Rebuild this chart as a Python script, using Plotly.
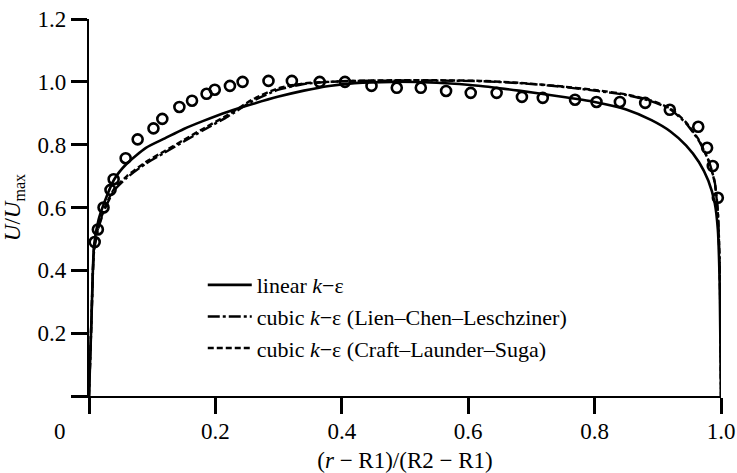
import plotly.graph_objects as go

# Normalised radial position across the gap
x_sim = [0, 0.004, 0.008, 0.015, 0.025, 0.04, 0.06, 0.09, 0.12, 0.15, 0.18, 0.22,
         0.26, 0.30, 0.34, 0.38, 0.42, 0.48, 0.55, 0.62, 0.68, 0.74, 0.80, 0.85,
         0.89, 0.92, 0.945, 0.965, 0.98, 0.99, 0.995, 0.998, 1.0]

# Velocity profiles U/Umax for the three turbulence models
u_linear = [0, 0.25, 0.48, 0.56, 0.62, 0.69, 0.74, 0.79, 0.82, 0.85, 0.875, 0.905,
            0.93, 0.953, 0.972, 0.987, 0.996, 1.0, 0.997, 0.987, 0.972, 0.955, 0.936,
            0.912, 0.878, 0.842, 0.797, 0.745, 0.685, 0.615, 0.53, 0.35, 0]
u_lcl = [0, 0.25, 0.46, 0.535, 0.595, 0.655, 0.695, 0.74, 0.775, 0.81, 0.845, 0.89,
         0.94, 0.975, 0.993, 1.0, 1.003, 1.004, 1.004, 1.002, 0.996, 0.986, 0.972,
         0.958, 0.938, 0.912, 0.867, 0.812, 0.752, 0.682, 0.59, 0.41, 0]
u_cls = [0, 0.25, 0.47, 0.54, 0.60, 0.66, 0.70, 0.745, 0.78, 0.815, 0.85, 0.895,
         0.945, 0.98, 0.995, 1.0, 1.003, 1.005, 1.005, 1.003, 0.997, 0.987, 0.974,
         0.96, 0.94, 0.915, 0.87, 0.815, 0.75, 0.68, 0.58, 0.40, 0]

# Measured profile
x_exp = [0.009, 0.014, 0.023, 0.034, 0.039, 0.058, 0.077, 0.102, 0.116, 0.143,
         0.163, 0.186, 0.199, 0.223, 0.243, 0.284, 0.321, 0.365, 0.405, 0.447,
         0.487, 0.525, 0.565, 0.604, 0.645, 0.685, 0.718, 0.769, 0.803, 0.840,
         0.880, 0.919, 0.964, 0.978, 0.987, 0.995]
u_exp = [0.49, 0.53, 0.60, 0.656, 0.69, 0.757, 0.817, 0.852, 0.882, 0.920,
         0.940, 0.962, 0.975, 0.987, 1.0, 1.003, 1.003, 1.0, 1.0, 0.987,
         0.981, 0.981, 0.971, 0.965, 0.965, 0.952, 0.949, 0.943, 0.936, 0.936,
         0.933, 0.911, 0.857, 0.790, 0.732, 0.631]

x_ticks = [0, 0.2, 0.4, 0.6, 0.8, 1.0]
x_tick_text = ["", "0.2", "0.4", "0.6", "0.8", "1.0"]
y_ticks = [0, 0.2, 0.4, 0.6, 0.8, 1.0, 1.2]
y_tick_text = ["", "0.2", "0.4", "0.6", "0.8", "1.0", "1.2"]

FONT = "Liberation Serif"
FS = 23

fig = go.Figure()

fig.add_trace(go.Scatter(
    x=x_exp, y=u_exp, mode="markers", showlegend=False, cliponaxis=False,
    marker=dict(symbol="circle-open", size=10, color="black", line=dict(width=2.6, color="black")),
))
fig.add_trace(go.Scatter(
    x=x_sim, y=u_linear, mode="lines", name="linear <i>k</i>−ε", legendgroup="a",
    line=dict(color="black", width=2.6, shape="spline", smoothing=0.6), cliponaxis=False,
))
fig.add_trace(go.Scatter(
    x=x_sim, y=u_lcl, mode="lines", name="cubic <i>k</i>−ε (Lien–Chen–Leschziner)", legendgroup="b",
    line=dict(color="black", width=2.4, dash="12px,3px,3px,3px", shape="spline", smoothing=0.6),
    cliponaxis=False,
))
fig.add_trace(go.Scatter(
    x=x_sim, y=u_cls, mode="lines", name="cubic <i>k</i>−ε (Craft–Launder–Suga)", legendgroup="c",
    line=dict(color="black", width=2.4, dash="6px,3px", shape="spline", smoothing=0.6),
    cliponaxis=False,
))

axis_common = dict(
    showline=True, linecolor="black", linewidth=2.2,
    ticks="outside", ticklen=16, tickwidth=2.5, tickcolor="black",
    showgrid=False, zeroline=False, automargin=False,
    tickfont=dict(family=FONT, size=FS, color="black"),
)

fig.update_xaxes(
    range=[0, 1.0], tickmode="array", tickvals=x_ticks, ticktext=x_tick_text,
    ticklabelstandoff=-3,
    title=dict(text="(<i>r</i> − R1)/(R2 − R1)", font=dict(family=FONT, size=FS, color="black"), standoff=16),
    **axis_common,
)
fig.update_yaxes(
    range=[0, 1.2], tickmode="array", tickvals=y_ticks, ticktext=y_tick_text,
    title=dict(text="<i>U</i>/<i>U</i><sub>max</sub>", font=dict(family=FONT, size=FS, color="black"), standoff=10),
    **axis_common,
)

# Shared origin label at the corner of the axes
fig.add_annotation(
    text="0", x=-0.046, y=-0.093, xref="paper", yref="paper",
    xanchor="center", yanchor="middle", showarrow=False,
    font=dict(family=FONT, size=FS, color="black"),
)

fig.update_layout(
    width=737, height=473,
    margin=dict(l=89, r=16, t=19, b=77),
    paper_bgcolor="white", plot_bgcolor="white",
    font=dict(family=FONT, size=FS, color="black"),
    legend=dict(
        x=0.18, y=0.35, xanchor="left", yanchor="top",
        bgcolor="rgba(0,0,0,0)", traceorder="grouped", tracegroupgap=0,
        itemwidth=44, font=dict(family=FONT, size=22, color="black"),
    ),
)

fig.write_html("out.html")
